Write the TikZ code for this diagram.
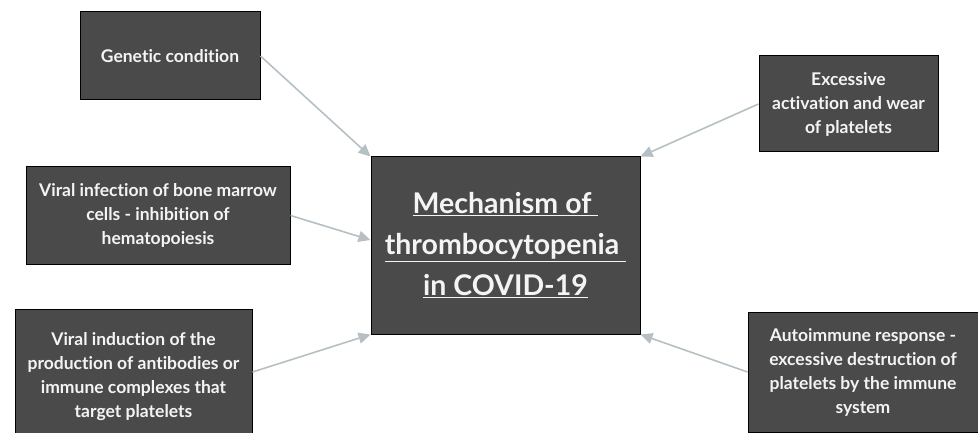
\documentclass[tikz,border=0pt]{standalone}
\usepackage{fontspec}
\setmainfont{Lato}[Ligatures=NoCommon]
\usetikzlibrary{arrows.meta}
\definecolor{boxfill}{HTML}{4A4A4A}
\definecolor{arrowc}{HTML}{B6C0C4}
\definecolor{txt}{HTML}{F4F4F4}
\begin{document}
\begin{tikzpicture}[x=1pt,y=-1pt,
  box/.style={draw=black, line width=1pt, fill=boxfill, text=txt,
    font=\bfseries\fontsize{17.5}{24}\selectfont, align=center, inner sep=0pt},
  mainbox/.style={box, font=\bfseries\fontsize{28.5}{41}\selectfont},
  conn/.style={draw=arrowc, line width=1.6pt, -{Triangle[length=12pt,width=11pt]}}]
\useasboundingbox (0,0) rectangle (978,433);
\clip (0,0) rectangle (978,433);
\node[mainbox, minimum width=269pt, minimum height=177pt] (c) at (505.5,245.5)
  {\underline{Mechanism of\ }\\ \underline{thrombocytopenia\ }\\ \underline{in COVID-19}};
\node[box, minimum width=180pt, minimum height=88pt] (gen) at (170,56) {Genetic condition};
\node[box, minimum width=264pt, minimum height=97pt] (inf) at (158,215.5)
  {Viral infection of bone marrow\\ cells - inhibition of\\ hematopoiesis};
\node[box, minimum width=237pt, minimum height=136pt] (ind) at (133.5,377)
  {Viral induction of the\\ production of antibodies or\\ immune complexes that\\ target platelets};
\node[box, minimum width=179pt, minimum height=96pt] (exc) at (848.5,104)
  {Excessive\\ activation and wear\\ of platelets};
\node[box, minimum width=230pt, minimum height=120pt] (aut) at (863,372)
  {Autoimmune response -\\ excessive destruction of\\ platelets by the immune\\ system};
\draw[conn] (gen.east) -- (c.north west);
\draw[conn] (inf.east) -- ([yshift=5.5pt]c.west);
\draw[conn] ([yshift=5pt]ind.east) -- (c.south west);
\draw[conn] (exc.west) -- (c.north east);
\draw[conn] (aut.west) -- (c.south east);
\end{tikzpicture}
\end{document}
